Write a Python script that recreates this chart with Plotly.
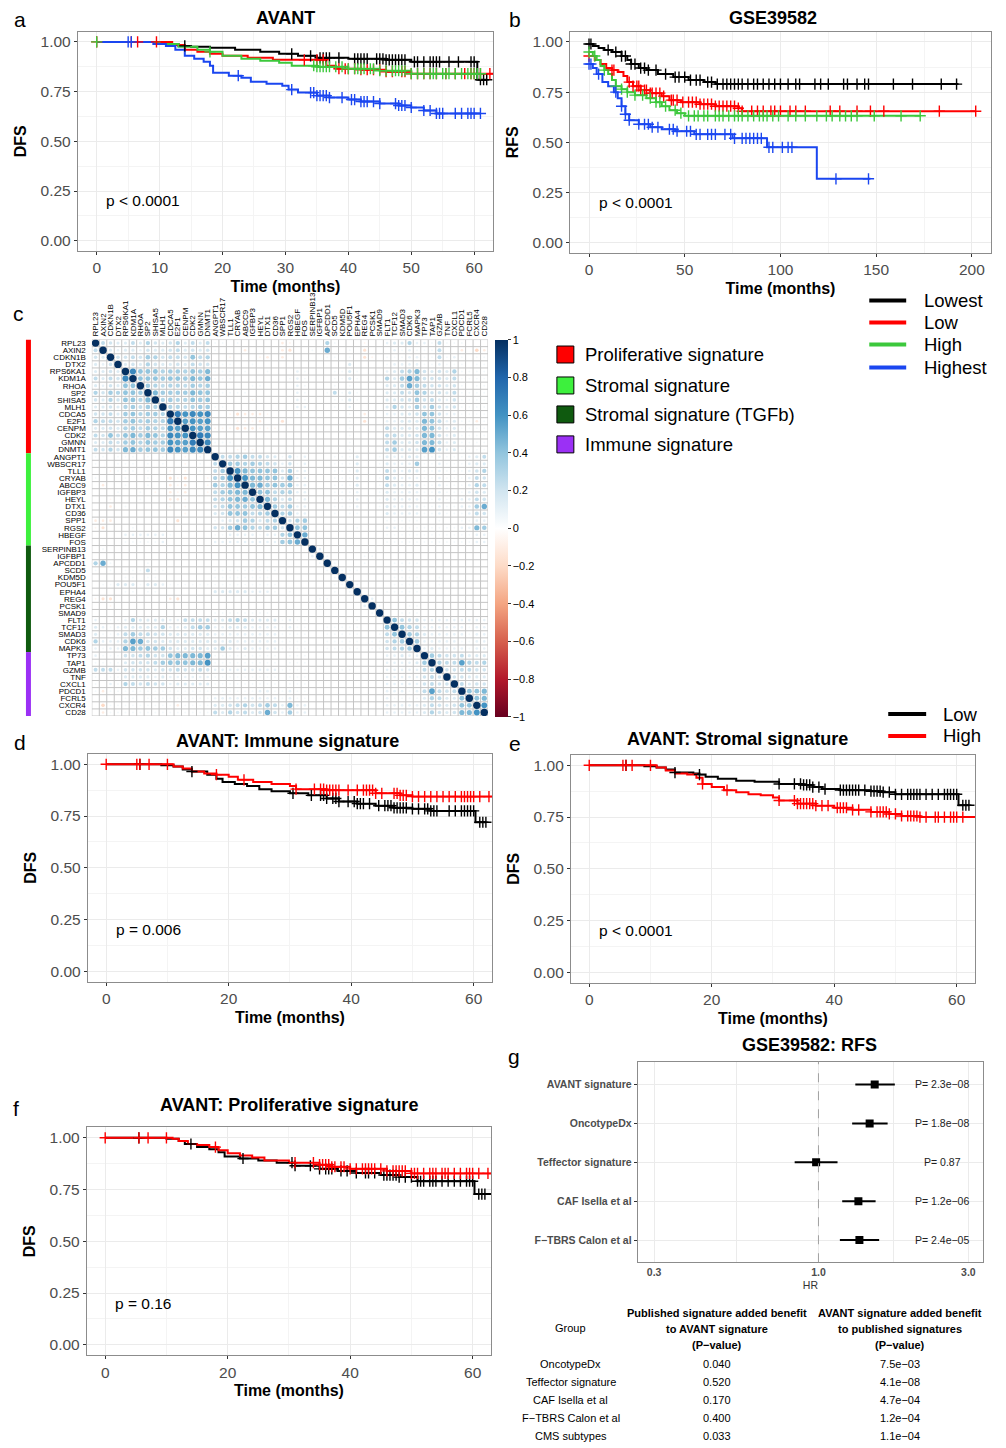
import numpy as np
import plotly.graph_objects as go

W, H = 1006, 1448
FONT = "Liberation Sans, Arial, Helvetica, sans-serif"
TICK_GREY = "#4D4D4D"
GRID = "#EBEBEB"
GRID_MINOR = "#F4F4F4"
BORDER = "#8C8C8C"

C_BLACK, C_RED, C_GREEN, C_BLUE = "#000000", "#FF0000", "#3CC83C", "#1A46F0"

# ---------------- Panel a : AVANT (DFS) ----------------
a_lowest_t = [0, 11, 13, 15, 18, 22, 26, 29, 32, 35, 40, 46, 50, 60.5, 62]
a_lowest_s = [1.0, 0.99, 0.98, 0.975, 0.97, 0.96, 0.95, 0.94, 0.93, 0.92, 0.915, 0.91, 0.90, 0.81, 0.81]
a_low_t = [0, 12, 14, 16, 18, 20, 24, 28, 36.5, 38, 42, 46, 50, 63]
a_low_s = [1.0, 0.985, 0.96, 0.95, 0.94, 0.93, 0.92, 0.91, 0.88, 0.865, 0.86, 0.85, 0.84, 0.84]
a_high_t = [0, 10, 13, 16, 18, 20, 23, 26, 29, 31, 35, 40, 45, 50, 61]
a_high_s = [1.0, 0.99, 0.975, 0.96, 0.95, 0.93, 0.915, 0.905, 0.895, 0.88, 0.875, 0.865, 0.855, 0.84, 0.84]
a_highest_t = [0, 9, 11, 12.5, 14, 15.5, 17, 18, 18.5, 21, 23, 24.5, 27, 29.5, 30.5, 32, 35, 37, 40, 42, 45, 48, 50, 52, 54, 61]
a_highest_s = [1.0, 0.99, 0.98, 0.96, 0.93, 0.915, 0.90, 0.88, 0.845, 0.83, 0.82, 0.80, 0.79, 0.78, 0.76, 0.745, 0.73, 0.72, 0.71, 0.70, 0.69, 0.68, 0.67, 0.655, 0.64, 0.64]
a_lowest_c = [14, 31, 34, 35.5, 36, 36.5, 37, 38.5, 41, 41.5, 42, 42.5, 43, 44.5, 45, 45.5, 46, 46.5, 47, 47.5, 48, 48.5, 49, 50.5, 51, 52, 53, 53.5, 54, 54.5, 56, 57.5, 59.5, 60, 61, 61.5, 62]
a_low_c = [0, 5.5, 6.5, 9.5, 33, 35, 36, 38.5, 39.5, 40, 41, 42, 43, 44, 45, 46, 47, 48.5, 49, 50, 51, 52, 53, 54, 55.5, 57, 58.5, 59.5, 60, 61, 62.5]
a_high_c = [0, 18, 34.5, 35, 35.5, 36, 36.5, 37, 38, 39, 40, 41, 41.5, 42, 42.5, 43.5, 44, 45, 46, 47, 47.5, 48, 48.5, 49, 50, 51, 52, 53, 53.5, 54, 55, 55.5, 56, 57, 58, 59, 59.5, 60, 60.5, 61]
a_highest_c = [5, 5.5, 22.5, 31, 34, 34.5, 35, 35.5, 36, 36.5, 37, 39, 40.5, 41, 42, 42.5, 43, 44, 45, 47.5, 48, 48.5, 49, 50, 52, 53, 54, 54.5, 55, 57, 58, 59, 59.5, 60, 61]

# ---------------- Panel b : GSE39582 (RFS) ----------------
b_lowest_t = [0, 2, 5, 8, 12, 17, 20, 22, 26, 30, 36, 44, 52, 60, 66, 193]
b_lowest_s = [0.99, 0.98, 0.97, 0.96, 0.95, 0.93, 0.91, 0.89, 0.87, 0.86, 0.84, 0.825, 0.81, 0.80, 0.79, 0.79]
b_low_t = [0, 3, 6, 9, 12, 15, 18, 20, 23, 27, 32, 38, 42, 48, 58, 66, 78, 80, 202]
b_low_s = [0.93, 0.91, 0.89, 0.87, 0.86, 0.85, 0.83, 0.80, 0.78, 0.76, 0.745, 0.73, 0.71, 0.70, 0.69, 0.68, 0.67, 0.655, 0.655]
b_high_t = [0, 2, 4, 6, 8, 10, 12, 14, 17, 20, 24, 30, 35, 38, 42, 46, 50, 173]
b_high_s = [0.95, 0.93, 0.91, 0.88, 0.86, 0.84, 0.81, 0.78, 0.765, 0.75, 0.735, 0.72, 0.70, 0.68, 0.66, 0.645, 0.632, 0.632]
b_highest_t = [0, 2, 4, 7, 10, 13, 15, 17, 19, 21, 26, 32, 38, 45, 55, 75, 93, 119, 147]
b_highest_s = [0.89, 0.87, 0.84, 0.80, 0.78, 0.75, 0.72, 0.68, 0.64, 0.61, 0.59, 0.575, 0.565, 0.555, 0.54, 0.52, 0.475, 0.318, 0.318]
b_lowest_c = [0, 1, 10, 14, 17, 19, 22, 24, 27, 29, 31, 35, 40, 45, 47, 50, 53, 56, 58, 62, 64, 67, 70, 72, 74, 76, 78, 80, 83, 86, 88, 91, 94, 97, 100, 104, 108, 110, 118, 121, 125, 133, 135, 140, 144, 146, 159, 169, 184, 192]
b_low_c = [0, 12, 13, 21, 23, 25, 26, 27, 29, 30, 32, 33, 35, 37, 39, 43, 44, 46, 49, 52, 54, 56, 58, 60, 62, 64, 66, 68, 70, 72, 74, 76, 78, 80, 85, 88, 91, 95, 97, 100, 105, 108, 113, 126, 131, 140, 147, 154, 183, 202]
b_high_c = [0, 3, 8, 14, 17, 20, 24, 28, 32, 35, 37, 40, 45, 48, 52, 55, 57, 60, 62, 66, 68, 70, 73, 76, 78, 80, 83, 86, 89, 91, 93, 96, 99, 104, 108, 113, 119, 124, 127, 131, 134, 137, 140, 149, 163, 173]
b_highest_c = [0, 1, 5, 14, 17, 19, 21, 26, 29, 31, 33, 36, 42, 44, 46, 51, 53, 56, 58, 62, 64, 66, 71, 74, 76, 80, 82, 84, 86, 88, 90, 94, 96, 101, 104, 106, 129, 146]

# ---------------- Panel d : AVANT immune signature ----------------
d_low_t = [0, 9, 11, 12.5, 14, 16.5, 18, 19, 21, 23, 25, 27, 30, 33, 36, 38, 41, 44, 47, 50, 53, 60.3, 62]
d_low_s = [1.0, 0.995, 0.99, 0.975, 0.965, 0.95, 0.93, 0.915, 0.905, 0.895, 0.88, 0.87, 0.86, 0.85, 0.835, 0.82, 0.81, 0.80, 0.79, 0.785, 0.775, 0.72, 0.72]
d_high_t = [0, 11, 12.5, 14, 16, 18, 20, 21.5, 24, 27, 30, 31, 36, 44, 48, 50, 63]
d_high_s = [1.0, 0.99, 0.98, 0.965, 0.955, 0.95, 0.94, 0.925, 0.915, 0.905, 0.895, 0.88, 0.875, 0.86, 0.85, 0.844, 0.844]
d_low_c = [5.5, 14, 30.5, 33.5, 35, 35.5, 36, 37, 37.5, 38, 39.5, 40.5, 41, 41.5, 42, 43, 44.5, 45.5, 46, 46.5, 47, 47.5, 48, 48.5, 49, 50, 51, 52, 52.5, 53, 53.5, 54, 56, 57, 58, 58.5, 59, 59.5, 60, 61, 61.5, 62]
d_high_c = [0, 5, 5.5, 7, 10, 18, 22.5, 31, 34, 35, 35.5, 36, 36.5, 37, 37.5, 38, 39.5, 41, 42, 42.5, 43, 43.5, 44, 45, 47, 47.5, 48, 48.5, 49, 50, 51, 52, 53, 54, 55, 56, 57, 58, 58.5, 59, 59.5, 60, 61, 62.5]

# ---------------- Panel e : AVANT stromal signature ----------------
e_low_t = [0, 9, 11, 12.5, 14, 17, 18, 19, 21, 24, 27, 31, 35, 36.5, 38, 41, 46, 48, 50, 60.3, 62]
e_low_s = [1.0, 0.995, 0.99, 0.98, 0.965, 0.96, 0.955, 0.945, 0.935, 0.925, 0.92, 0.91, 0.905, 0.895, 0.885, 0.88, 0.875, 0.87, 0.86, 0.807, 0.807]
e_high_t = [0, 11, 12.5, 14, 16, 17.5, 18.5, 20, 22, 24, 26, 28, 30, 31, 34, 37, 40, 43, 46, 49, 51, 54, 63]
e_high_s = [1.0, 0.99, 0.975, 0.96, 0.955, 0.94, 0.91, 0.895, 0.88, 0.87, 0.86, 0.855, 0.845, 0.83, 0.815, 0.805, 0.795, 0.785, 0.775, 0.765, 0.755, 0.75, 0.75]
e_low_c = [6, 14, 18, 31, 33.5, 34.5, 35, 35.5, 36, 36.5, 37.5, 38.5, 41, 41.5, 42, 42.5, 43, 43.5, 44, 45, 46, 46.5, 47, 47.5, 48, 49, 50, 51, 52, 52.5, 53, 53.5, 54, 55, 56, 57, 58, 58.5, 59, 59.5, 60, 61, 61.5, 62]
e_high_c = [0, 5.5, 6, 7, 10, 18.5, 22.5, 31, 33.5, 34, 34.5, 35, 35.5, 36, 36.5, 37, 38, 39, 40.5, 41, 41.5, 42, 43, 44, 46, 47, 47.5, 48, 48.5, 49, 50, 51, 52, 52.5, 53, 53.5, 54, 55, 56.5, 57, 58, 59, 59.5, 60, 61]

# ---------------- Panel f : AVANT proliferative signature ----------------
f_low_t = [0, 10, 12, 13, 15, 17, 18.5, 19.5, 22, 25, 28, 31, 35, 38, 41, 45, 48, 51, 60.3, 63]
f_low_s = [1.0, 0.995, 0.985, 0.97, 0.955, 0.945, 0.93, 0.91, 0.90, 0.89, 0.88, 0.865, 0.85, 0.84, 0.83, 0.82, 0.81, 0.79, 0.728, 0.728]
f_high_t = [0, 11, 12, 13.5, 15, 17, 18.5, 20, 22, 24, 26, 30, 35, 37, 40, 46, 50, 63]
f_high_s = [1.0, 0.995, 0.985, 0.97, 0.965, 0.955, 0.94, 0.925, 0.915, 0.905, 0.89, 0.88, 0.87, 0.86, 0.85, 0.84, 0.828, 0.828]
f_low_c = [5.5, 14, 22.5, 30.5, 31, 33.5, 35, 36, 36.5, 37, 38.5, 39.5, 41, 42.5, 43, 44, 45.5, 46, 46.5, 47, 47.5, 48, 49, 50, 51, 51.5, 52, 53, 53.5, 54, 55, 56, 57, 58, 59, 59.5, 60, 61, 61.5, 62]
f_high_c = [0, 5.5, 7, 10, 18, 31, 34, 35, 35.5, 36, 36.5, 37, 37.5, 38.5, 39, 40, 41, 42, 42.5, 43, 43.5, 44, 45, 46, 47, 47.5, 48, 48.5, 49, 50, 50.5, 51, 52, 53, 53.5, 54, 55, 55.5, 56, 57, 58, 59, 59.5, 60, 61, 62.5]

# ---------------- Panel c : gene correlation matrix ----------------
genes_prolif = ["RPL23", "AXIN2", "CDKN1B", "DTX2", "RPS6KA1", "KDM1A", "RHOA", "SP2", "SHISA5", "MLH1",
                "CDCA5", "E2F1", "CENPM", "CDK2", "GMNN", "DNMT1"]
genes_stromal = ["ANGPT1", "WBSCR17", "TLL1", "CRYAB", "ABCC9", "IGFBP3", "HEYL", "DTX1", "CD36", "SPP1",
                 "RGS2", "HBEGF", "FOS"]
genes_tgfb = ["SERPINB13", "IGFBP1", "APCDD1", "SCD5", "KDM5D", "POU5F1", "EPHA4", "REG4", "PCSK1", "SMAD9",
              "FLT1", "TCF12", "SMAD3", "CDK6", "MAPK3"]
genes_immune = ["TP73", "TAP1", "GZMB", "TNF", "CXCL1", "PDCD1", "FCRL5", "CXCR4", "CD28"]
group_names = ["Proliferative signature", "Stromal signature", "Stromal signature (TGFb)", "Immune signature"]
group_colors = ["#FF0000", "#3DF03D", "#0F5A0F", "#9B30F5"]

# lower triangle (row i holds correlations with genes 1..i), values x 100
corr_lower = [
    [100],
    [25, 100],
    [20, 15, 100],
    [15, 10, 20, 100],
    [15, 15, 20, 15, 100],
    [25, 15, 25, 20, 65, 100],
    [15, 10, 20, 15, 40, 40, 100],
    [30, 20, 35, 30, 40, 40, 35, 100],
    [20, 15, 30, 20, 40, 40, 30, 45, 100],
    [15, 15, 20, 15, 30, 35, 25, 35, 30, 100],
    [20, 20, 25, 15, 35, 40, 30, 35, 35, 30, 100],
    [30, 25, 25, 20, 35, 40, 30, 35, 30, 30, 70, 100],
    [15, 15, 20, 15, 30, 35, 25, 35, 30, 25, 60, 55, 100],
    [25, 20, 40, 25, 40, 45, 35, 45, 40, 30, 65, 60, 60, 100],
    [15, 15, 25, 20, 35, 40, 30, 40, 35, 35, 60, 55, 55, 70, 100],
    [25, 20, 30, 20, 45, 50, 35, 40, 40, 35, 65, 60, 55, 65, 65, 100],
    [5, 5, 0, 5, 5, 5, 0, 5, 0, 5, 0, 0, -5, 0, 5, 0, 100],
    [5, 0, 0, 5, 5, 5, 0, 5, 0, 5, 0, 0, -5, 0, 5, 0, 25, 100],
    [0, 0, -5, 5, 5, 5, 0, 5, 0, 0, -5, 0, -5, 0, 5, 0, 25, 35, 100],
    [5, 0, 0, 0, 5, 0, 0, 5, 0, 0, -15, -5, -15, 0, 0, -5, 30, 35, 60, 100],
    [0, -10, 0, 0, 5, 0, 0, 5, 0, 0, -10, -5, -10, 0, 0, -5, 35, 30, 45, 60, 100],
    [0, 0, 0, 5, 0, 0, 5, 0, -5, 0, -10, -5, -10, 0, 0, -5, 25, 35, 40, 45, 45, 100],
    [0, 0, -5, 0, 0, 0, 5, 0, 0, 0, -10, -10, -5, 0, 0, 0, 25, 30, 40, 45, 50, 40, 100],
    [0, 0, -10, 0, 5, 0, 0, 0, 0, 0, -5, 0, -5, 0, 0, 0, 20, 25, 40, 40, 35, 40, 45, 100],
    [0, 0, 0, 0, 0, 0, 0, 0, 0, 0, 0, 0, -5, 0, 0, 0, 15, 20, 40, 40, 40, 25, 30, 35, 100],
    [-10, -10, -10, 0, 0, 0, 0, 0, 0, 0, 0, -15, 0, 0, 0, 0, 5, 10, 15, 20, 35, 30, 15, 25, 30, 100],
    [-5, -15, 0, 0, 0, 5, 0, 0, 0, 0, 0, 0, 0, 0, 0, 0, 20, 20, 35, 50, 40, 30, 25, 35, 35, 20, 100],
    [0, 0, 0, 0, 10, 10, 10, 10, 10, 10, 5, 0, 0, 0, 0, 0, 5, 5, 10, 10, 10, 10, 5, 10, 10, 30, 40, 100],
    [0, 0, 0, 0, 5, 5, 5, 5, 5, 10, 0, 0, 0, 0, 0, 0, 10, 10, 10, 10, 10, 10, 10, 10, 10, 35, 40, 50, 100],
    [0, 5, 0, 0, 0, 0, 0, 0, 0, 0, 0, 0, 0, 0, 0, 0, 0, 0, 0, 0, 0, 0, 0, 0, 0, 0, 0, 0, 0, 100],
    [0, 0, 0, 0, 0, 0, 0, 0, 0, 0, 0, 0, 0, 0, 0, 0, 0, 0, 0, 0, 0, 0, 0, 0, 0, 0, 0, 0, 0, 10, 100],
    [30, 50, 5, 0, 0, 0, 0, 5, 0, 0, 0, 0, 0, 0, 0, 0, 0, 0, 0, 0, 0, 0, 0, 0, 0, 0, 0, 0, 0, 0, 5, 100],
    [5, 0, 5, 0, 5, 5, 5, 25, 5, 5, 0, 0, 0, 0, 0, 0, 5, 5, 5, 5, 5, 5, 5, 5, 5, 0, 0, 0, 0, 0, 0, 5, 100],
    [0, 0, 0, 0, 5, 5, 0, 5, 5, 0, 0, 0, 0, 0, 0, 0, 5, 5, 5, 5, 5, 5, 5, 5, 0, 0, 0, 0, 0, 0, 0, 0, 5, 100],
    [0, 5, 5, 15, 15, 15, 5, 15, 15, 10, 5, 5, 5, 5, 5, 5, 5, 5, 5, 5, 5, 5, 5, 5, 5, 0, 0, 0, 0, 0, 0, 0, 5, 5, 100],
    [0, 0, 0, 0, 5, 5, 0, 5, 5, 0, 0, 0, 0, 0, 0, 0, 15, 15, 15, 15, 15, 10, 10, 10, 5, 0, 5, 0, 0, 0, 0, 0, 5, 0, 5, 100],
    [-5, -15, -15, 0, 0, 0, 0, 0, 0, 0, -10, -15, 0, 0, 0, 0, 0, 0, 0, 0, 0, 0, 0, 0, 0, 0, 0, 0, 0, 0, 5, 5, 0, 0, 0, 0, 100],
    [0, 0, -5, 0, 0, 0, 0, 0, 0, 0, 0, 0, 0, 0, 0, 0, 0, 0, 0, 0, 0, 0, 0, 0, 0, 0, 0, 0, 0, 0, 5, 0, 0, 0, 0, 0, 10, 100],
    [0, 0, 0, 0, 0, 0, 0, 0, 0, 0, 0, 0, 0, 0, 0, 0, 5, 5, 5, 5, 5, 5, 5, 5, 0, 0, 0, 0, 0, 0, 0, 0, 0, 0, 0, 0, 0, 5, 100],
    [10, 0, 5, 5, 10, 30, 15, 15, 15, 15, 10, 10, 25, 25, 25, 25, 15, 15, 25, 30, 25, 15, 15, 15, 15, 5, 10, 5, 5,
     0, 0, 0, 0, 0, 0, 5, 0, 0, 0, 100],
    [15, 10, 5, 10, 15, 15, 15, 15, 15, 30, 10, 10, 15, 25, 35, 35, 10, 10, 15, 15, 15, 10, 10, 10, 10, 5, 10, 5, 5,
     0, 0, 5, 5, 5, 5, 5, 0, 0, 0, 40, 100],
    [15, 5, 5, 10, 25, 35, 25, 25, 20, 20, 15, 15, 15, 15, 15, 15, 10, 10, 10, 10, 10, 10, 10, 10, 10, 5, 5, 5, 5,
     0, 0, 5, 5, 5, 5, 5, 0, 0, 5, 25, 40, 100],
    [30, 10, 10, 10, 30, 55, 50, 20, 20, 15, 15, 15, 15, 15, 15, 15, 15, 10, 15, 10, 10, 10, 10, 10, 10, 5, 5, 5, 5,
     0, 0, 5, 5, 5, 5, 5, 0, 5, 5, 20, 30, 35, 100],
    [10, 5, 10, 10, 45, 45, 35, 40, 35, 35, 20, 15, 15, 20, 20, 15, 15, 35, 15, 10, 15, 10, 10, 10, 10, 5, 5, 5, 5,
     0, 0, 5, 5, 5, 5, 5, 0, 5, 5, 20, 25, 30, 35, 100],
    [10, 5, 5, 5, 20, 20, 25, 30, 20, 20, 40, 45, 45, 45, 45, 55, 5, 5, 5, 5, 5, 5, 5, 5, 5, 0, 5, 5, 5,
     0, 0, 0, 0, 0, 0, 0, 0, 0, 0, 10, 10, 15, 10, 10, 100],
    [5, 5, 5, 5, 15, 20, 20, 20, 25, 35, 40, 40, 40, 45, 45, 60, 5, 5, 5, 5, 5, 5, 5, 5, 5, 0, 5, 5, 5,
     0, 0, 0, 0, 0, 0, 0, 0, 0, 0, 10, 10, 10, 10, 15, 35, 100],
    [25, 25, 25, 10, 20, 20, 20, 20, 15, 20, 20, 25, 20, 20, 25, 20, 10, 10, 10, 10, 10, 10, 10, 10, 10, 5, 5, 5, 5,
     0, 0, 0, 0, 5, 5, 0, 0, 0, 0, 10, 10, 10, 10, 10, 25, 30, 100],
    [5, 0, 5, 5, 15, 15, 15, 15, 10, 15, 10, 10, 10, 10, 10, 10, 5, 5, 5, 5, 5, 5, 5, 5, 5, 0, 5, 5, 5,
     0, 0, 0, 0, 0, 0, 0, 0, 0, 0, 10, 10, 10, 10, 10, 20, 25, 20, 100],
    [5, 0, 10, 5, 30, 25, 20, 25, 20, 20, 10, 15, 15, 15, 15, 15, 5, 5, 5, 5, 5, 5, 5, 5, 5, 0, 5, 5, 5,
     0, 0, 0, 0, 0, 0, 0, 0, 0, 0, 10, 10, 10, 10, 10, 20, 25, 20, 20, 100],
    [5, -10, 5, 5, 5, 5, 5, 5, 5, 5, 5, 5, 5, 5, 5, 5, 5, 5, 5, 5, 5, 5, 10, 10, 5, 5, 10, 5, 5,
     0, 0, 0, 0, 0, 0, 0, 0, 0, 0, 10, 10, 10, 5, 10, 25, 55, 25, 20, 25, 100],
    [0, 0, 0, 0, 5, 5, 0, 5, 5, 5, 5, 5, 5, 5, 5, 5, 10, 10, 10, 10, 10, 10, 10, 10, 10, 5, 10, 5, 5,
     0, 0, 0, 0, 0, 0, 0, 0, 0, 0, 10, 5, 5, 5, 5, 15, 30, 25, 15, 15, 40, 100],
    [0, -20, 5, 5, 5, 5, 5, 5, 5, 5, 5, -10, 5, 5, 5, 5, 15, 15, 20, 25, 30, 20, 25, 35, 25, 10, 45, 10, 10,
     0, 0, 0, 0, 0, 0, 0, 0, 0, 0, 10, 10, 10, 10, 10, 15, 25, 20, 15, 20, 40, 40, 100],
    [0, -10, 5, 5, 5, 5, 5, 5, 5, 5, 5, 5, 5, 5, 5, 5, 25, 15, 30, 20, 25, 15, 20, 50, 20, 10, 35, 10, 10,
     0, 0, 0, 0, 0, 0, 0, 0, 0, 0, 10, 10, 10, 10, 10, 15, 30, 20, 15, 20, 45, 45, 60, 100],
]
cbar_vals = [1, 0.8, 0.6, 0.4, 0.2, 0, -0.2, -0.4, -0.6, -0.8, -1]
cbar_text = ["1", "0.8", "0.6", "0.4", "0.2", "0", "\u22120.2", "\u22120.4", "\u22120.6", "\u22120.8", "\u22121"]

# ---------------- Panel g : forest plot + table ----------------
g_labels = ["AVANT signature", "OncotypeDx", "Teffector signature", "CAF Isella et al", "F\u2212TBRS Calon et al"]
g_hr = [1.51, 1.455, 0.983, 1.34, 1.35]
g_lo = [1.31, 1.28, 0.84, 1.19, 1.17]
g_hi = [1.75, 1.66, 1.15, 1.52, 1.56]
g_p = ["P= 2.3e\u221208", "P= 1.8e\u221208", "P= 0.87", "P= 1.2e\u221206", "P= 2.4e\u221205"]

t_groups = ["OncotypeDx", "Teffector signature", "CAF Isella et al", "F\u2212TBRS Calon et al", "CMS subtypes"]
t_pub = ["0.040", "0.520", "0.170", "0.400", "0.033"]
t_avant = ["7.5e\u221203", "4.1e\u221208", "4.7e\u221204", "1.2e\u221204", "1.1e\u221204"]

# =====================================================================
fig = go.Figure()
annotations = []
shapes = []


def xname(n):
    return "x" if n == 1 else f"x{n}"


def yname(n):
    return "y" if n == 1 else f"y{n}"


def ann(text, px, py, size, bold=False, xanchor="center", yanchor="middle", color="black", **kw):
    annotations.append(dict(text=f"<b>{text}</b>" if bold else text, x=px / W, y=1 - py / H,
                            xref="paper", yref="paper", xanchor=xanchor, yanchor=yanchor,
                            showarrow=False, font=dict(size=size, color=color, family=FONT), **kw))


def censor_y(t, s, c):
    idx = np.searchsorted(np.asarray(t, float), np.asarray(c, float), side="right") - 1
    return np.asarray(s, float)[np.clip(idx, 0, len(s) - 1)]


def km_panel(n, curves, xdom, ydom, xrange, dtick, mdtick, ytitle, ptext, px_, py_):
    for t, s, c, col in curves:
        fig.add_trace(go.Scatter(x=t, y=s, mode="lines", line=dict(color=col, width=2, shape="hv"),
                                 xaxis=xname(n), yaxis=yname(n), hoverinfo="skip", showlegend=False))
    for t, s, c, col in curves:
        fig.add_trace(go.Scatter(x=c, y=censor_y(t, s, c), mode="markers",
                                 marker=dict(symbol="cross-thin", size=8, line=dict(width=1.4, color=col)),
                                 xaxis=xname(n), yaxis=yname(n), hoverinfo="skip", showlegend=False))
    key = "" if n == 1 else str(n)
    fig.layout["xaxis" + key] = dict(
        domain=[xdom[0] / W, xdom[1] / W], range=xrange, anchor=yname(n),
        tickmode="linear", tick0=0, dtick=dtick,
        showgrid=True, gridcolor=GRID, gridwidth=1.1,
        minor=dict(tick0=0, dtick=mdtick, showgrid=True, gridcolor=GRID_MINOR, gridwidth=0.7),
        zeroline=False, showline=True, mirror=True, linecolor=BORDER, linewidth=1,
        ticks="outside", ticklen=3, tickcolor="#333333",
        tickfont=dict(size=15.5, color=TICK_GREY, family=FONT),
        title=dict(text="<b>Time (months)</b>", font=dict(size=16, color="black", family=FONT), standoff=5))
    fig.layout["yaxis" + key] = dict(
        domain=[1 - ydom[1] / H, 1 - ydom[0] / H], range=[-0.05, 1.05], anchor=xname(n),
        tickmode="linear", tick0=0, dtick=0.25, tickformat=".2f",
        showgrid=True, gridcolor=GRID, gridwidth=1.1,
        minor=dict(tick0=0, dtick=0.125, showgrid=True, gridcolor=GRID_MINOR, gridwidth=0.7),
        zeroline=False, showline=True, mirror=True, linecolor=BORDER, linewidth=1,
        ticks="outside", ticklen=3, tickcolor="#333333",
        tickfont=dict(size=15.5, color=TICK_GREY, family=FONT),
        title=dict(text=f"<b>{ytitle}</b>", font=dict(size=16, color="black", family=FONT), standoff=9))
    annotations.append(dict(text=ptext, x=px_, y=py_, xref=xname(n), yref=yname(n), xanchor="left",
                            yanchor="middle", showarrow=False, font=dict(size=15.5, color="black", family=FONT)))


# ---- a
km_panel(1, [(a_lowest_t, a_lowest_s, a_lowest_c, C_BLACK), (a_low_t, a_low_s, a_low_c, C_RED),
             (a_high_t, a_high_s, a_high_c, C_GREEN), (a_highest_t, a_highest_s, a_highest_c, C_BLUE)],
         (77, 493), (31, 250), [-3, 63], 10, 5, "DFS", "p &lt; 0.0001", 1.2, 0.2)
ann("AVANT", 285, 17, 18, bold=True)
ann("a", 19, 19, 21)
# ---- b
km_panel(2, [(b_lowest_t, b_lowest_s, b_lowest_c, C_BLACK), (b_low_t, b_low_s, b_low_c, C_RED),
             (b_high_t, b_high_s, b_high_c, C_GREEN), (b_highest_t, b_highest_s, b_highest_c, C_BLUE)],
         (570, 992), (31, 252), [-10, 210], 50, 25, "RFS", "p &lt; 0.0001", 4, 0.2)
ann("GSE39582", 774, 17, 18, bold=True)
ann("b", 515, 19, 21)
# legend a/b
for name, col, py in zip(["Lowest", "Low", "High", "Highest"], [C_BLACK, C_RED, C_GREEN, C_BLUE],
                         [300, 322, 344, 367]):
    shapes.append(dict(type="line", xref="paper", yref="paper", x0=870 / W, x1=907 / W,
                       y0=1 - py / H, y1=1 - py / H, line=dict(color=col, width=4)))
    ann(name, 923, py, 18.5, xanchor="left")

# ---- d, e, f
km_panel(4, [(d_low_t, d_low_s, d_low_c, C_BLACK), (d_high_t, d_high_s, d_high_c, C_RED)],
         (87, 492), (754, 982), [-3, 63], 20, 10, "DFS", "p = 0.006", 1.2, 0.2)
ann("AVANT: Immune signature", 287, 741, 18, bold=True)
ann("d", 19, 743, 21)
km_panel(5, [(e_low_t, e_low_s, e_low_c, C_BLACK), (e_high_t, e_high_s, e_high_c, C_RED)],
         (571, 976), (755, 983), [-3, 63], 20, 10, "DFS", "p &lt; 0.0001", 1.2, 0.2)
ann("AVANT: Stromal signature", 738, 739, 18, bold=True)
ann("e", 515, 744, 21)
km_panel(6, [(f_low_t, f_low_s, f_low_c, C_BLACK), (f_high_t, f_high_s, f_high_c, C_RED)],
         (86, 491), (1128, 1356), [-3, 63], 20, 10, "DFS", "p = 0.16", 1.2, 0.2)
ann("AVANT: Proliferative signature", 289, 1106, 18, bold=True)
ann("f", 15, 1109, 21)
# legend d/e
for name, col, py in zip(["Low", "High"], [C_BLACK, C_RED], [714, 736]):
    shapes.append(dict(type="line", xref="paper", yref="paper", x0=889 / W, x1=927 / W,
                       y0=1 - py / H, y1=1 - py / H, line=dict(color=col, width=4)))
    ann(name, 942, py, 18.5, xanchor="left")

# ---- c : correlation matrix
genes = genes_prolif + genes_stromal + genes_tgfb + genes_immune
n = len(genes)
M = np.zeros((n, n))
for i, row in enumerate(corr_lower):
    if len(row) != i + 1:
        raise ValueError(f"row {i + 1} has {len(row)} values")
    for j, v in enumerate(row):
        M[i, j] = v / 100.0
        M[j, i] = v / 100.0
xs, ys, rs = [], [], []
for i in range(n):
    for j in range(n):
        xs.append(j + 1)
        ys.append(i + 1)
        rs.append(M[i, j])
rs = np.array(rs)
corr_scale = ["#67001F", "#B2182B", "#D6604D", "#F4A582", "#FDDBC7", "#FFFFFF",
              "#D1E5F0", "#92C5DE", "#4393C3", "#2166AC", "#053061"]
colorscale = [[k / 10, c] for k, c in enumerate(corr_scale)]
fig.add_trace(go.Scatter(
    x=xs, y=ys, mode="markers", xaxis="x3", yaxis="y3", hoverinfo="skip", showlegend=False,
    marker=dict(symbol="circle", size=np.maximum(7.4 * np.abs(rs) ** 0.45, 1.4), color=rs, opacity=1,
                colorscale=colorscale, cmin=-1, cmax=1, line=dict(width=0), showscale=True,
                colorbar=dict(x=495 / W, xanchor="left", y=1 - 528 / H, yanchor="middle",
                              len=378 / H, lenmode="fraction", thickness=13, thicknessmode="pixels",
                              xpad=0, ypad=0, outlinewidth=0, tickvals=cbar_vals, ticktext=cbar_text,
                              ticks="outside", ticklen=3, tickcolor="#333333",
                              tickfont=dict(size=11, color="black", family=FONT)))))
fig.layout["xaxis3"] = dict(domain=[91 / W, 488 / W], range=[0.5, n + 0.5], anchor="y3", side="top",
                            tickmode="array", tickvals=list(range(1, n + 1)), ticktext=genes,
                            tickangle=-90, tickfont=dict(size=8, color="black", family=FONT),
                            ticklabelstandoff=2,
                            showgrid=False, zeroline=False, showline=False, ticks="")
fig.layout["yaxis3"] = dict(domain=[1 - 716 / H, 1 - 339 / H], range=[n + 0.5, 0.5], anchor="x3",
                            tickmode="array", tickvals=list(range(1, n + 1)), ticktext=genes,
                            tickfont=dict(size=8, color="black", family=FONT),
                            ticklabelstandoff=5,
                            showgrid=False, zeroline=False, showline=False, ticks="")
for k in range(n + 1):
    shapes.append(dict(type="line", xref="x3", yref="y3", x0=k + 0.5, x1=k + 0.5, y0=0.5, y1=n + 0.5,
                       line=dict(color="#C4C4C4", width=1), layer="below"))
    shapes.append(dict(type="line", xref="x3", yref="y3", x0=0.5, x1=n + 0.5, y0=k + 0.5, y1=k + 0.5,
                       line=dict(color="#C4C4C4", width=1), layer="below"))
# side group bar
start = 0.5
for grp, col in zip([genes_prolif, genes_stromal, genes_tgfb, genes_immune], group_colors):
    shapes.append(dict(type="rect", xref="paper", yref="y3", x0=25 / W, x1=30 / W, y0=start,
                       y1=start + len(grp), fillcolor=col, line=dict(width=0)))
    start += len(grp)
ann("c", 18, 313, 21)
# signature legend
for name, col, py in zip(group_names, group_colors, [354, 385, 414, 444]):
    shapes.append(dict(type="rect", xref="paper", yref="paper", x0=557 / W, x1=574 / W,
                       y0=1 - (py + 8.5) / H, y1=1 - (py - 8.5) / H, fillcolor=col,
                       line=dict(color="black", width=1)))
    ann(name, 583, py, 18.5, xanchor="left")

# ---- g : forest plot
ypos = [len(g_labels) - k for k in range(len(g_labels))]
hr = np.array(g_hr)
fig.add_trace(go.Scatter(
    x=g_hr, y=ypos, mode="markers", xaxis="x7", yaxis="y7", hoverinfo="skip", showlegend=False,
    marker=dict(symbol="square", size=8, color="black"),
    error_x=dict(type="data", symmetric=False, array=list(np.array(g_hi) - hr),
                 arrayminus=list(hr - np.array(g_lo)), thickness=2, width=0, color="black")))
fig.layout["xaxis7"] = dict(domain=[638 / W, 984 / W], type="log", range=[np.log10(0.266), np.log10(3.34)],
                            anchor="y7", tickmode="array", tickvals=[0.3, 0.548, 1.0, 1.73, 3.0],
                            ticktext=["<b>0.3</b>", "", "<b>1.0</b>", "", "<b>3.0</b>"],
                            tickfont=dict(size=10.5, color=TICK_GREY, family=FONT), ticks="",
                            showgrid=True, gridcolor=GRID, gridwidth=1, zeroline=False,
                            showline=True, mirror=True, linecolor=BORDER, linewidth=1,
                            title=dict(text="HR", font=dict(size=10.5, color="#333333", family=FONT), standoff=4))
fig.layout["yaxis7"] = dict(domain=[1 - 1263 / H, 1 - 1062 / H], range=[0.43, 5.59], anchor="x7",
                            tickmode="array", tickvals=ypos, ticktext=[f"<b>{s}</b>" for s in g_labels],
                            tickfont=dict(size=10.5, color=TICK_GREY, family=FONT),
                            ticks="outside", ticklen=3, tickcolor="#333333",
                            showgrid=True, gridcolor=GRID, gridwidth=1, zeroline=False,
                            showline=True, mirror=True, linecolor=BORDER, linewidth=1)
shapes.append(dict(type="line", xref="x7", yref="y7 domain", x0=1.0, x1=1.0, y0=0, y1=1,
                   line=dict(color="#A0A0A0", width=1, dash="dash")))
for txt, yp in zip(g_p, ypos):
    annotations.append(dict(text=txt, x=943 / W, y=yp, xref="paper", yref="y7", xanchor="center",
                            yanchor="middle", showarrow=False,
                            font=dict(size=10.5, color="#222222", family=FONT)))
ann("GSE39582: RFS", 810, 1045, 18, bold=True)
ann("g", 514, 1057, 21)

# ---- table
ann("Group", 571, 1329, 11)
for line, py in zip(["Published signature added benefit", "to AVANT signature", "(P\u2212value)"],
                    [1314, 1330, 1346]):
    ann(line, 717, py, 11, bold=True)
for line, py in zip(["AVANT signature added benefit", "to published signatures", "(P\u2212value)"],
                    [1314, 1330, 1346]):
    ann(line, 901, py, 11, bold=True)
for gname, pv1, pv2, py in zip(t_groups, t_pub, t_avant, [1365, 1383, 1401, 1419, 1437]):
    ann(gname, 571, py, 11)
    ann(pv1, 717, py, 11)
    ann(pv2, 901, py, 11)

fig.update_layout(width=W, height=H, margin=dict(l=0, r=0, t=0, b=0), paper_bgcolor="white",
                  plot_bgcolor="white", showlegend=False, annotations=annotations, shapes=shapes,
                  font=dict(family=FONT, color="black"))
fig.write_html("out.html", config={"displayModeBar": False},
               post_script="document.body.style.margin='0px';document.body.style.padding='0px';"
                           "document.documentElement.style.overflow='hidden';")
